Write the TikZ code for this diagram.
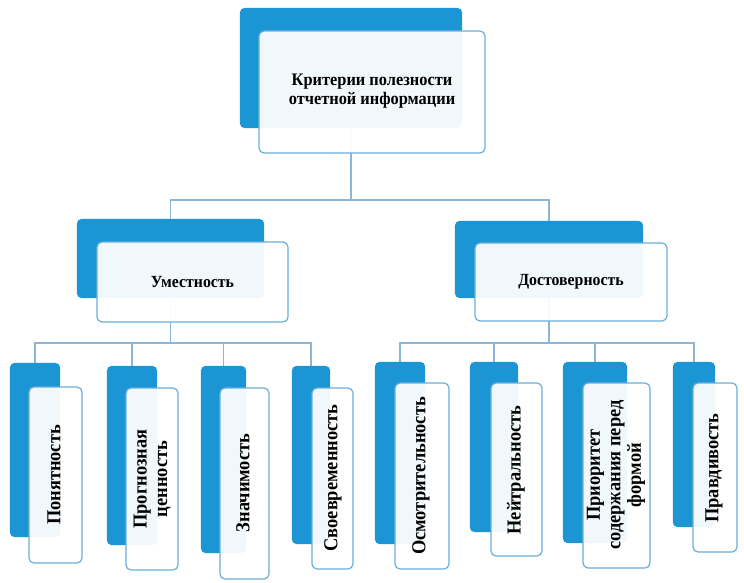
\documentclass[tikz,border=0pt]{standalone}
\usepackage{fontspec}
\setmainfont[FakeStretch=0.93]{Liberation Serif}
\usetikzlibrary{backgrounds}
\definecolor{backblue}{HTML}{1B95D3}
\definecolor{frontline}{HTML}{6AAEDC}
\definecolor{linkcol}{HTML}{8DB5D5}
\tikzset{
  backbox/.style={fill=backblue, draw=none, rounded corners=5pt},
  frontbox/.style={fill=white, fill opacity=0.94, draw=frontline, line width=1.2pt, rounded corners=5pt},
  link/.style={draw=linkcol, line width=1.1pt},
  toptext/.style={font=\fontsize{17.6}{18.5}\selectfont\bfseries, align=center, text=black},
  midtext/.style={font=\fontsize{17}{18}\selectfont\bfseries, align=center, text=black},
  lowtext/.style={font=\fontsize{19.8}{20.5}\selectfont\bfseries, align=center, text=black, rotate=90},
}
\begin{document}
\begin{tikzpicture}[x=1pt,y=-1pt]
\useasboundingbox (0,0) rectangle (744,583);
% top
\node[inner sep=0, minimum width=222pt, minimum height=120pt] (rootBk) at (351,68) {};
\fill[backbox] (rootBk.north west) rectangle (rootBk.south east);
\draw[frontbox] (259,31) rectangle (485,153);
\node[toptext] (root) at (372,91) {Критерии полезности\\отчетной информации};
% middle
\node[inner sep=0, minimum width=187pt, minimum height=79pt] (umB) at (170.5,258.5) {};
\fill[backbox] (umB.north west) rectangle (umB.south east);
\draw[frontbox] (97,242) rectangle (288,322);
\node[midtext] (um) at (192.5,282) {Уместность};
\node[inner sep=0, minimum width=188pt, minimum height=77pt] (dostB) at (549,259.5) {};
\fill[backbox] (dostB.north west) rectangle (dostB.south east);
\draw[frontbox] (475,243) rectangle (667,321);
\node[midtext] (dost) at (571,282) {Достоверность};
% bottom backs
\foreach \nm/\xa/\ya/\xb/\yb in {b1/10/363/60/537, b2/107/366/157/545, b3/201/366/246/553, b4/292/366/330/544, b5/375/362/425/544, b6/470/362/518/532, b7/563/362/627/543, b8/673/362/715/527}{
  \node[inner sep=0, minimum width={(\xb-\xa)*1pt}, minimum height={(\yb-\ya)*1pt}] (\nm) at ({(\xa+\xb)/2},{(\ya+\yb)/2}) {};
  \fill[backbox] (\nm.north west) rectangle (\nm.south east);
}
\foreach \xa/\ya/\xb/\yb in {29/387/82/563, 126/388/178/570, 220/388/269/579, 312/388/353/569, 395/383/449/569, 491/383/542/556, 583/383/650/568, 693/383/737/552}{
  \draw[frontbox] (\xa,\ya) rectangle (\xb,\yb);
}
\node[lowtext] (l1) at (54,475) {Понятность};
\node[lowtext] (l2) at (152,479) {Прогнозная\\ценность};
\node[lowtext] (l3) at (243,483) {Значимость};
\node[lowtext] (l4) at (333,478) {Своевременность};
\node[lowtext] (l5) at (421,476) {Осмотрительность};
\node[lowtext] (l6) at (516,470) {Нейтральность};
\node[lowtext] (l7) at (616,475) {Приоритет\\содержания перед\\формой};
\node[lowtext] (l8) at (714,468) {Правдивость};
% connectors
\begin{scope}[on background layer]
\coordinate (bus0) at (0,200);
\coordinate (bus1) at (0,343);
\draw[link] (rootBk.center) -- (rootBk.center |- bus0) -| (umB.north);
\draw[link] (rootBk.center |- bus0) -| (dostB.north);
\draw[link] (umB.center) -- (umB.center |- bus1);
\draw[link] (b1.north) |- (bus1 -| b4.north) -- (b4.north);
\draw[link] (b2.north) -- (b2.north |- bus1);
\draw[link] (b3.north) -- (b3.north |- bus1);
\draw[link] (dostB.center) -- (dostB.center |- bus1);
\draw[link] (b5.north) |- (bus1 -| b8.north) -- (b8.north);
\draw[link] (b6.north) -- (b6.north |- bus1);
\draw[link] (b7.north) -- (b7.north |- bus1);
\end{scope}
\end{tikzpicture}
\end{document}
